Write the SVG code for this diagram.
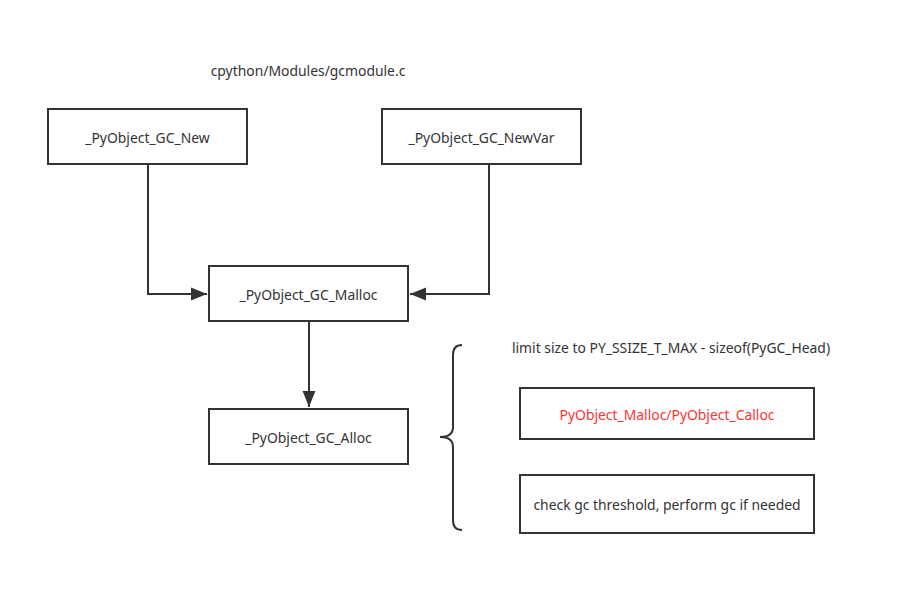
<svg xmlns="http://www.w3.org/2000/svg" width="914" height="595" viewBox="0 0 914 595">
<defs>
<style>
.box{fill:#fff;stroke:#333;stroke-width:2}
.t{font-family:"Noto Sans","DejaVu Sans",sans-serif;font-size:13.9px;fill:#333;text-anchor:middle;dominant-baseline:central}
.red{fill:#ff3333}
.line{fill:none;stroke:#333;stroke-width:2}
</style>
<marker id="ah" viewBox="0 0 10 10" refX="10" refY="5" markerWidth="16" markerHeight="16" markerUnits="userSpaceOnUse" orient="auto">
<path d="M0,1 L10,5 L0,9 Z" fill="#333"/>
</marker>
</defs>
<rect width="914" height="595" fill="#fff"/>
<text class="t" x="308" y="70">cpython/Modules/gcmodule.c</text>
<g id="connectors">
<path class="line" d="M148,164 V294 H207" marker-end="url(#ah)"/>
<path class="line" d="M489,164 V294 H410" marker-end="url(#ah)"/>
<path class="line" d="M309,321 V407" marker-end="url(#ah)"/>
</g>
<g id="n-new"><rect class="box" x="48" y="109" width="199" height="55"/><text class="t" x="147.5" y="137">_PyObject_GC_New</text></g>
<g id="n-newvar"><rect class="box" x="382" y="109" width="199" height="55"/><text class="t" x="481.5" y="137">_PyObject_GC_NewVar</text></g>
<g id="n-malloc"><rect class="box" x="209" y="266" width="199" height="55"/><text class="t" x="308.5" y="294">_PyObject_GC_Malloc</text></g>
<g id="n-alloc"><rect class="box" x="209" y="409" width="199" height="55"/><text class="t" x="308.5" y="437">_PyObject_GC_Alloc</text></g>
<g id="brace"><path class="line" d="M462,345 Q453,345 453,355 V427 Q453,437 440,437 Q453,437 453,447 V520 Q453,530 462,530"/></g>
<text class="t" x="671" y="347">limit size to PY_SSIZE_T_MAX - sizeof(PyGC_Head)</text>
<g id="n-pymalloc"><rect class="box" x="520" y="388" width="294" height="51"/><text class="t red" x="667" y="414">PyObject_Malloc/PyObject_Calloc</text></g>
<g id="n-check"><rect class="box" x="520" y="475" width="294" height="58"/><text class="t" x="667" y="504">check gc threshold, perform gc if needed</text></g>
</svg>
